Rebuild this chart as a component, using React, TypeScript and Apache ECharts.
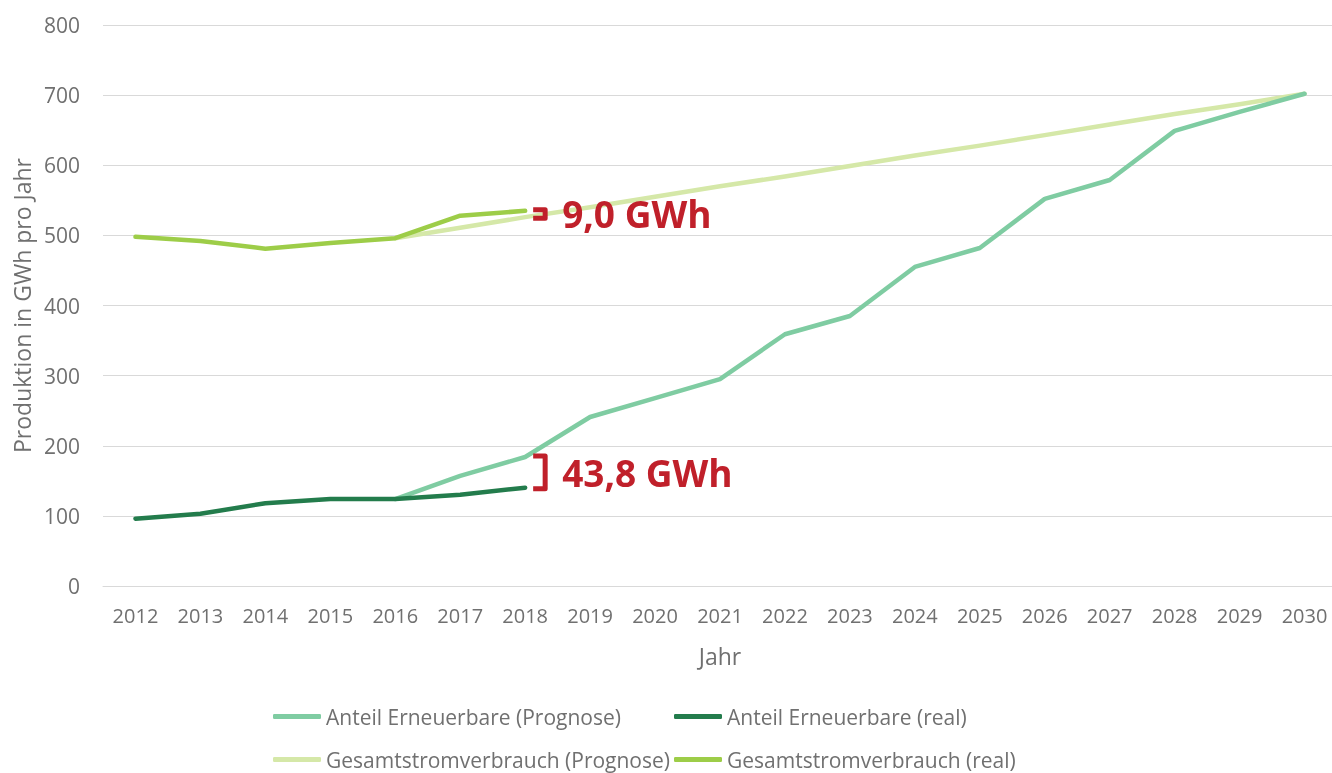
import React, { useEffect, useRef } from "react";
import * as echarts from "echarts";

const years = ["2012","2013","2014","2015","2016","2017","2018","2019","2020","2021","2022","2023","2024","2025","2026","2027","2028","2029","2030"];
const anteilPrognose = [null,null,null,null,124,157,184,241,268,295,359,385,455,482,552,579,649,676,702];
const anteilReal = [96,103,118,124,124,130,140.2,null,null,null,null,null,null,null,null,null,null,null,null];
const gesamtPrognose = [null,null,null,null,496,511,526,540,555,570,584,599,614,628,643,658,673,687,702];
const gesamtReal = [498,492,481,489,496,528,535,null,null,null,null,null,null,null,null,null,null,null,null];
const seriesNames = ["Anteil Erneuerbare (Prognose)","Anteil Erneuerbare (real)","Gesamtstromverbrauch (Prognose)","Gesamtstromverbrauch (real)"];
const seriesColors = ["#7fcca2","#237c4c","#d5e8a8","#9dcd48"];
const gapLabels = ["9,0 GWh","43,8 GWh"];
const gapYear = "2018";

const FONT = "'Open Sans', sans-serif";
const RED = "#c0202a";
const GREY = "#707070";

export default function App() {
  const ref = useRef<HTMLDivElement>(null);
  useEffect(() => {
    if (!ref.current) return;
    const chart = echarts.init(ref.current, null, { renderer: "svg" });
    const mkLegend = (name: string, left: number, top: number) => ({
      data: [name], left, top, padding: 0, icon: "roundRect", itemWidth: 48, itemHeight: 5,
      textStyle: { color: GREY, fontSize: 21, fontFamily: FONT },
      selectedMode: false,
    });
    const line = (i: number, data: any[]) => ({
      name: seriesNames[i], type: "line", data, symbol: "none",
      lineStyle: { color: seriesColors[i], width: 4.5, cap: "round", join: "round" },
      itemStyle: { color: seriesColors[i] },
      connectNulls: false,
    });
    chart.setOption({
      animation: false,
      textStyle: { fontFamily: FONT },
      grid: { left: 103, top: 25, width: 1234, height: 561, containLabel: false },
      legend: [
        mkLegend(seriesNames[0], 273, 706),
        mkLegend(seriesNames[1], 674, 706),
        mkLegend(seriesNames[2], 273, 749),
        mkLegend(seriesNames[3], 674, 749),
      ],
      xAxis: {
        type: "category", data: years, boundaryGap: true,
        name: "Jahr", nameLocation: "middle", nameGap: 58,
        nameTextStyle: { color: GREY, fontSize: 23, fontFamily: FONT },
        axisLine: { lineStyle: { color: "#d9d9d9" } },
        axisTick: { show: false },
        axisLabel: { color: GREY, fontSize: 20, fontFamily: FONT, margin: 19 },
      },
      yAxis: {
        type: "value", min: 0, max: 800, interval: 100,
        name: "Produktion in GWh pro Jahr", nameLocation: "middle", nameGap: 70, nameRotate: 90,
        nameTextStyle: { color: GREY, fontSize: 23, fontFamily: FONT },
        axisLine: { show: false }, axisTick: { show: false },
        axisLabel: { color: GREY, fontSize: 21, fontFamily: FONT, margin: 23 },
        splitLine: { lineStyle: { color: "#d9d9d9", width: 1 } },
      },
      series: [
        line(2, gesamtPrognose),
        line(0, anteilPrognose),
        line(3, gesamtReal),
        line(1, anteilReal),
      ],
    });
    const idx = years.indexOf(gapYear);
    const p = (v: number) => chart.convertToPixel({ xAxisIndex: 0, yAxisIndex: 0 }, [idx, v]) as number[];
    const gTop = p(gesamtReal[idx] as number);
    const gBot = p(gesamtPrognose[idx] as number);
    const aTop = p(anteilPrognose[idx] as number);
    const aBot = p(anteilReal[idx] as number);
    const bracket = (top: number[], bot: number[]) => ({
      type: "polyline",
      shape: { points: [[top[0] + 8, top[1] - 1], [top[0] + 20, top[1] - 1], [top[0] + 20, bot[1] + 1], [top[0] + 8, bot[1] + 1]] },
      style: { stroke: RED, lineWidth: 5, fill: "none", lineJoin: "round" },
      z: 10,
    });
    const label = (text: string, top: number[], bot: number[]) => ({
      type: "text",
      x: top[0] + 37, y: (top[1] + bot[1]) / 2,
      style: { text, fill: RED, font: `bold 37px ${FONT}`, verticalAlign: "middle" },
      z: 10,
    });
    chart.setOption({
      graphic: [
        bracket(gTop, gBot), label(gapLabels[0], gTop, gBot),
        bracket(aTop, aBot), label(gapLabels[1], aTop, aBot),
      ],
    });
    return () => chart.dispose();
  }, []);
  return <div ref={ref} style={{ position: "fixed", left: 0, top: 0, width: 1340, height: 773 }} />;
}
